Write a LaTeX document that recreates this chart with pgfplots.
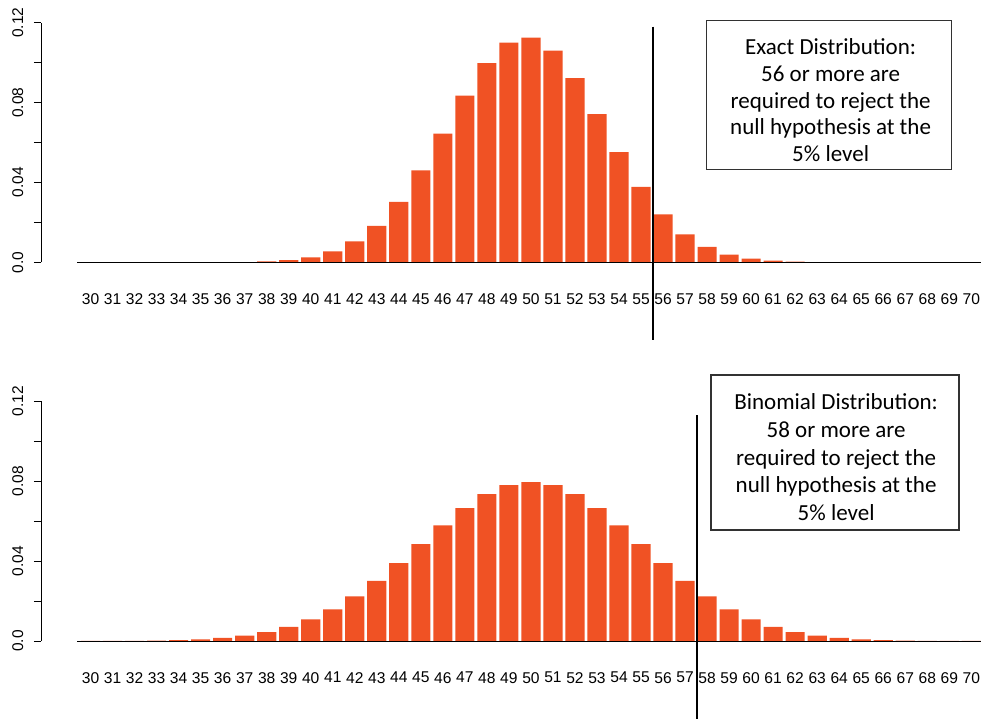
\documentclass[border=0pt]{standalone}
\usepackage{fontspec}
\setmainfont{Liberation Sans}
\newfontfamily\carlito{Carlito}
\usepackage{pgfplots}
\usepackage{pgfplotstable}
\pgfplotsset{compat=1.18}
\definecolor{barc}{RGB}{240,82,36}
\definecolor{boxc}{RGB}{50,50,50}

\pgfplotstableread{
x y
30 0
31 0
32 0
33 0
34 0
35 0
36 0.00002
37 0.0001
38 0.0004
39 0.0011
40 0.0025
41 0.0055
42 0.0105
43 0.0183
44 0.0303
45 0.0460
46 0.0645
47 0.0835
48 0.0998
49 0.1100
50 0.1125
51 0.1060
52 0.0922
53 0.0742
54 0.0552
55 0.0378
56 0.0240
57 0.0140
58 0.0077
59 0.0038
60 0.0018
61 0.0008
62 0.0003
63 0.0001
64 0.00003
65 0
66 0
67 0
68 0
69 0
70 0
}\exacttable

\pgfplotstableread{
x y
30 0.0000232
31 0.0000523
32 0.000113
33 0.000232
34 0.000458
35 0.000864
36 0.00156
37 0.00271
38 0.00448
39 0.00711
40 0.01084
41 0.01587
42 0.02229
43 0.03007
44 0.03895
45 0.04847
46 0.05796
47 0.06659
48 0.07353
49 0.07803
50 0.07959
51 0.07803
52 0.07353
53 0.06659
54 0.05796
55 0.04847
56 0.03895
57 0.03007
58 0.02229
59 0.01587
60 0.01084
61 0.00711
62 0.00448
63 0.00271
64 0.00156
65 0.000864
66 0.000458
67 0.000232
68 0.000113
69 0.0000523
70 0.0000232
}\binomtable

\tikzset{
  boxtext/.style={align=center, inner sep=0pt, font=\carlito\fontsize{23}{26.8}\selectfont},
  boxtextb/.style={align=center, inner sep=0pt, font=\carlito\fontsize{23}{27.6}\selectfont},
  boxframe/.style={draw=boxc, line width=1.5pt, inner sep=0pt},
}

\pgfplotsset{
  panel/.style={
    scale only axis,
    width=940pt, height=239.6pt,
    anchor=south west,
    xmin=27.75, xmax=70.44,
    ymin=0, ymax=0.12,
    clip=false,
    axis x line*=bottom,
    axis y line*=left,
    x axis line style={draw=none},
    y axis line style={black, line width=0.9pt},
    xtick={30,...,70},
    xtick style={draw=none},
    ytick={0,0.02,0.04,0.06,0.08,0.1,0.12},
    yticklabels={0.0,,0.04,,0.08,,0.12},
    ytick style={black, line width=0.9pt},
    tick align=outside,
    major tick length=7pt,
    /pgf/number format/assume math mode=true,
    xticklabel style={anchor=north, inner sep=0pt, font=\fontsize{15.6}{15.6}\selectfont},
    xticklabel shift=24pt,
    yticklabel style={rotate=90, anchor=south, inner sep=0pt, font=\fontsize{15.5}{15.5}\selectfont},
    yticklabel shift=10.5pt,
  },
  bars/.style={ybar, bar width=0.87, fill=barc, draw=none},
}

\begin{document}
\begin{tikzpicture}
\path[use as bounding box] (0,0) rectangle (981pt,718pt);

\begin{axis}[panel, at={(41pt,455.7pt)}]
  \addplot[bars] table[x=x, y=y] {\exacttable};
  \addplot[black, line width=1pt] coordinates {(29.4,0) (70.5,0)};
  \addplot[black, line width=2pt] coordinates {(55.56,0.118) (55.56,-0.039)};
  \node[boxframe, minimum width=245pt, minimum height=149pt] at (axis cs:63.54,0.0838) {};
  \node[boxtext] at (axis cs:63.61,0.0812) {Exact Distribution:\\56 or more are\\required to reject the\\null hypothesis at the\\5\% level};
\end{axis}

\begin{axis}[panel, at={(41pt,77pt)}]
  \addplot[bars] table[x=x, y=y] {\binomtable};
  \addplot[black, line width=1pt] coordinates {(29.4,0) (70.5,0)};
  \addplot[black, line width=2pt] coordinates {(57.56,0.113) (57.56,-0.041)};
  \node[boxframe, minimum width=248pt, minimum height=155pt] at (axis cs:63.81,0.0943) {};
  \node[boxtextb] at (axis cs:63.86,0.0920) {Binomial Distribution:\\58 or more are\\required to reject the\\null hypothesis at the\\5\% level};
\end{axis}
\end{tikzpicture}
\end{document}
